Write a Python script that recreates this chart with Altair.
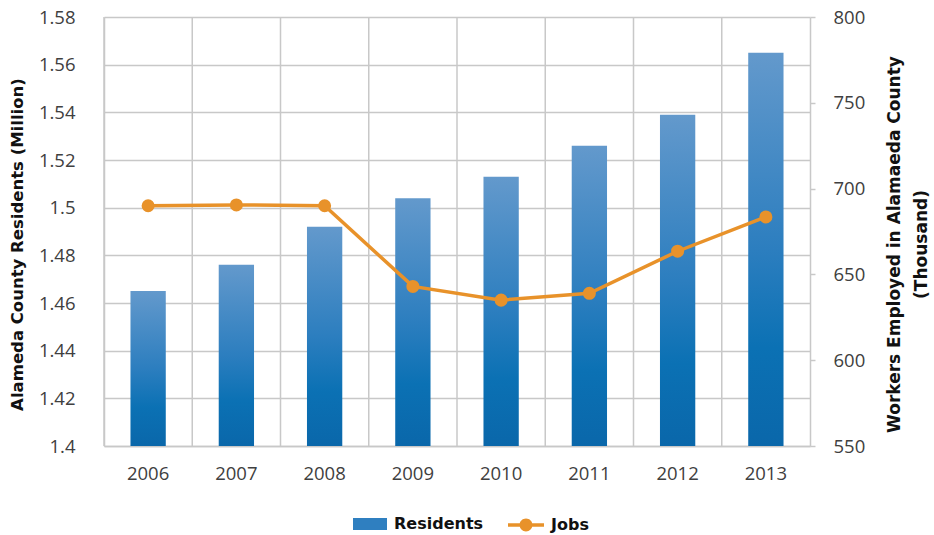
import altair as alt
import pandas as pd

years = ["2006", "2007", "2008", "2009", "2010", "2011", "2012", "2013"]
residents = [1.465, 1.476, 1.492, 1.504, 1.513, 1.526, 1.539, 1.565]
jobs = [690, 690.5, 690, 643, 635, 639, 663.5, 683.5]
left_ticks = [1.4, 1.42, 1.44, 1.46, 1.48, 1.5, 1.52, 1.54, 1.56, 1.58]
right_ticks = [550, 600, 650, 700, 750, 800]

df = pd.DataFrame({"year": years, "residents": residents, "jobs": jobs,
                   "s1": ["Residents"] * len(years), "s2": ["Jobs"] * len(years)})

FONT = "Open Sans"
TFONT = "DejaVu Sans"
GRID = "#c8c8c8"
ORANGE = "#e8922a"
LSIZE = 18.5

grad = alt.Gradient(gradient="linear",
                    stops=[alt.GradientStop(color="#6399cc", offset=0),
                           alt.GradientStop(color="#2c7ebf", offset=0.5),
                           alt.GradientStop(color="#0b71b4", offset=0.75),
                           alt.GradientStop(color="#0a67aa", offset=1)],
                    x1=0, x2=0, y1=0, y2=1)

xscale = alt.Scale(paddingInner=0, paddingOuter=0)
xaxis = alt.Axis(title=None, labelAngle=0, labelFontSize=LSIZE, labelFont=FONT,
                 labelColor="#404040", ticks=False, domain=True, domainColor=GRID,
                 domainWidth=1.5, grid=False, labelPadding=18)

yleft_scale = alt.Scale(domain=[1.4, 1.58], nice=False, zero=False)
yright_scale = alt.Scale(domain=[550, 800], nice=False, zero=False)

rules = alt.Chart(df).mark_rule(color=GRID, strokeWidth=1.5).encode(
    x=alt.X("year:N", bandPosition=0, scale=xscale, axis=xaxis, sort=years)
)

bars = alt.Chart(df).mark_bar(color=grad, width=alt.RelativeBandSize(0.4)).encode(
    x=alt.X("year:N", scale=xscale, axis=xaxis, sort=years),
    y=alt.Y("residents:Q", scale=yleft_scale,
            axis=alt.Axis(title="Alameda County Residents (Million)", values=left_ticks,
                          format="~g", grid=True, gridColor=GRID, gridWidth=1.5,
                          ticks=False, domain=True, domainColor=GRID, domainWidth=1.5,
                          labelFontSize=LSIZE, labelFont=FONT, labelColor="#404040",
                          labelPadding=29, titleFont=TFONT, titleFontSize=16.5,
                          titleFontWeight="bold", titleColor="#111111", titlePadding=13,
                          titleY=227)),
    y2=alt.datum(1.4)
)

helper = alt.Chart(df).mark_bar(width=alt.RelativeBandSize(0.4)).encode(
    x=alt.X("year:N", scale=xscale, axis=xaxis, sort=years),
    y=alt.datum(1.4),
    y2=alt.datum(1.4),
    fill=alt.Fill("s1:N", scale=alt.Scale(domain=["Residents"], range=["#2f7fc0"]),
                  legend=alt.Legend(title=None, orient="none", legendX=248, legendY=489,
                                    symbolType="M-1,-0.36L1,-0.36L1,0.36L-1,0.36Z",
                                    symbolSize=1156, labelFont=TFONT, labelFontSize=16,
                                    labelFontWeight="bold", labelColor="#111111",
                                    labelOffset=6))
)

line = alt.Chart(df).mark_line(color=ORANGE, strokeWidth=3.5).encode(
    x=alt.X("year:N", scale=xscale, axis=xaxis, sort=years),
    y=alt.Y("jobs:Q", scale=yright_scale,
            axis=alt.Axis(orient="right", title=["Workers Employed in Alamaeda County", "(Thousand)"],
                          values=right_ticks, grid=False, ticks=True, tickSize=5,
                          tickColor=GRID, tickWidth=1.5, domain=True, domainColor=GRID,
                          domainWidth=1.5, labelFontSize=LSIZE, labelFont=FONT,
                          labelColor="#404040", labelPadding=18, titleFont=TFONT,
                          titleFontSize=17, titleFontWeight="bold", titleColor="#111111",
                          titleAngle=270, titlePadding=12, titleLineHeight=27,
                          titleY=227))
)

circle_path = ("M-1,-0.1L1,-0.1L1,0.1L-1,0.1Z "
               "M-0.36,0A0.36,0.36 0 1,1 0.36,0A0.36,0.36 0 1,1 -0.36,0Z")

points = alt.Chart(df).mark_point(filled=True, size=170, opacity=1).encode(
    x=alt.X("year:N", scale=xscale, axis=xaxis, sort=years),
    y=alt.Y("jobs:Q", scale=yright_scale),
    color=alt.Color("s2:N", scale=alt.Scale(domain=["Jobs"], range=[ORANGE]),
                    legend=alt.Legend(title=None, orient="none", legendX=403, legendY=489,
                                      symbolType=circle_path, symbolSize=1296,
                                      symbolOpacity=1, labelFont=TFONT, labelFontSize=16,
                                      labelFontWeight="bold", labelColor="#111111",
                                      labelOffset=6))
)

left = alt.layer(rules, bars, helper)
right = alt.layer(line, points)

chart = alt.layer(left, right).resolve_scale(y="independent", color="independent").properties(
    width=706, height=429,
    padding={"left": 104, "top": 17, "right": 124, "bottom": 89},
    autosize=alt.AutoSizeParams(type="none"),
    background="white"
).configure_view(stroke=None)

chart.save("out.html", embed_options={"renderer": "svg", "actions": False})
